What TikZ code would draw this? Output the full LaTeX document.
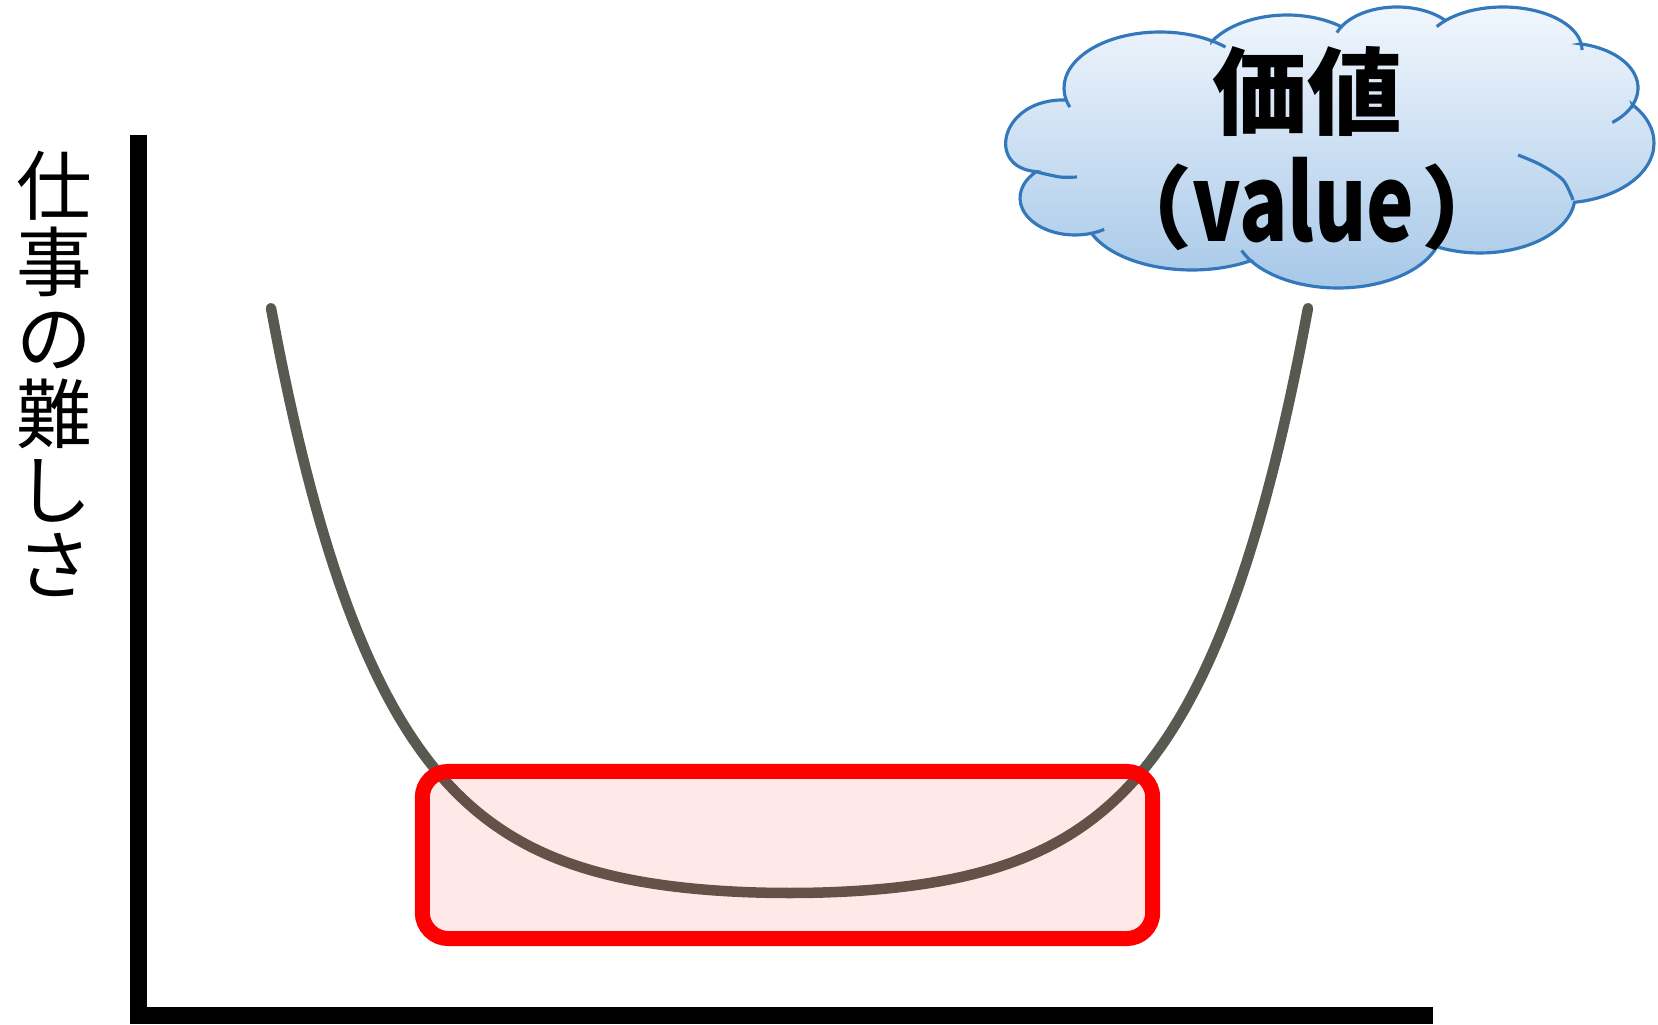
\documentclass[tikz,border=0pt]{standalone}
\usepackage{fontspec}
\usepackage{graphicx}
\newfontfamily\jpfont{Noto Sans CJK JP}
\usepackage{tikz}
\usetikzlibrary{positioning}
\definecolor{curvegray}{RGB}{86,90,80}
\definecolor{cloudblue}{RGB}{52,120,188}
\definecolor{cloudtop}{RGB}{242,247,253}
\definecolor{cloudbottom}{RGB}{165,199,232}
\tikzstyle{axis_line}=[line width=1.7mm, black]
\tikzstyle{cost_curve}=[line width=1.05mm, curvegray, line cap=round]
\tikzstyle{band_box}=[draw=red, line width=1.5mm, fill=red, fill opacity=0.09, rounded corners=2.6mm, minimum width=7.3cm, minimum height=1.67cm, inner sep=0]
\tikzstyle{cloud_body}=[draw=cloudblue, line width=0.9pt, top color=cloudtop, bottom color=cloudbottom]
\tikzstyle{cloud_fold}=[draw=cloudblue, line width=0.9pt]

\begin{document}
\begin{tikzpicture}[x=0.01cm, y=-0.01cm]
    \useasboundingbox (0,0) rectangle (1658,1025);
    % axes
    \coordinate (ytop) at (138.5,135);
    \coordinate (origin) at (138.5,1015.5);
    \coordinate (xend) at (1433,1015.5);
    \draw[axis_line] (ytop) -- (origin) -- (xend);

    % difficulty curve and the marked band
    \draw[cost_curve] plot[domain=-518.5:518.5, samples=121, smooth] ({789.5+\x}, {903.84-5.42*(exp(0.00907*\x)+exp(-0.00907*\x))});
    \node[band_box] at (787.5,855) (band) {};

    % cloud: one elliptic puff after another
    \draw[cloud_body]
        ([shift={(1160,88)}]167.7:96 and 56) arc[start angle=167.7, end angle=302.9, x radius=96, y radius=56]
     -- ([shift={(1287,70)}]211.7:88 and 55) arc[start angle=211.7, end angle=308.1, x radius=88, y radius=55]
     -- ([shift={(1397,46)}]210:64 and 39) arc[start angle=210, end angle=318.9, x radius=64, y radius=39]
     -- ([shift={(1503,50)}]223.1:79 and 43) arc[start angle=223.1, end angle=351.9, x radius=79, y radius=43]
     -- ([shift={(1566,88)}]282:72 and 45) arc[start angle=282, end angle=382.2, x radius=72, y radius=45]
     -- ([shift={(1560,143)}]320.6:94 and 60) arc[start angle=320.6, end angle=441.2, x radius=94, y radius=60]
     -- ([shift={(1480,196)}]7:95 and 57) arc[start angle=7, end angle=117.1, x radius=95, y radius=57]
     -- ([shift={(1338,228)}]18.1:104 and 60) arc[start angle=18.1, end angle=147.2, x radius=104, y radius=60]
     -- ([shift={(1192,212)}]57:108 and 58) arc[start angle=57, end angle=158.5, x radius=108, y radius=58]
     -- ([shift={(1075,198)}]72.5:55 and 37) arc[start angle=72.5, end angle=225.5, x radius=55, y radius=37]
        .. controls (985,168) and (1000,98) .. (1066,100) -- cycle;
    \foreach \cx/\cy/\rx/\ry/\ta/\tb in {1160/88/96/56/160/167.7, 1160/88/96/56/302.9/313, 1397/46/64/39/200/210, 1503/50/79/43/213/223.1, 1503/50/79/43/351.9/360, 1566/88/72/45/22.2/50, 1338/228/104/60/5/18.1, 1338/228/104/60/147.2/158, 1075/198/55/37/58/72.5}
        \draw[cloud_fold] ({\cx+\rx*cos(\ta)}, {\cy+\ry*sin(\ta)}) arc[start angle=\ta, end angle=\tb, x radius=\rx, y radius=\ry];
    \draw[cloud_fold] plot[smooth] coordinates {(1573,200) (1563,180) (1541,165) (1518,155)};
    \draw[cloud_fold] plot[smooth] coordinates {(1037,172) (1060,177) (1077,177)};

    \node[font=\jpfont\bfseries\fontsize{27}{27}\selectfont] at (1307,91) (value_jp) {価値};
    \node[anchor=base, inner sep=0, font=\jpfont\bfseries\fontsize{25.6}{26}\selectfont] at (1307,242) (value_en) {（\scalebox{0.76}[1]{\fontsize{30}{30}\selectfont value}\kern2pt）};

    \node[font=\jpfont\fontsize{21.5}{21.6}\selectfont, align=center, inner sep=0] at (54,374) (ylabel) {仕\\事\\の\\難\\し\\さ};
\end{tikzpicture}
\end{document}
